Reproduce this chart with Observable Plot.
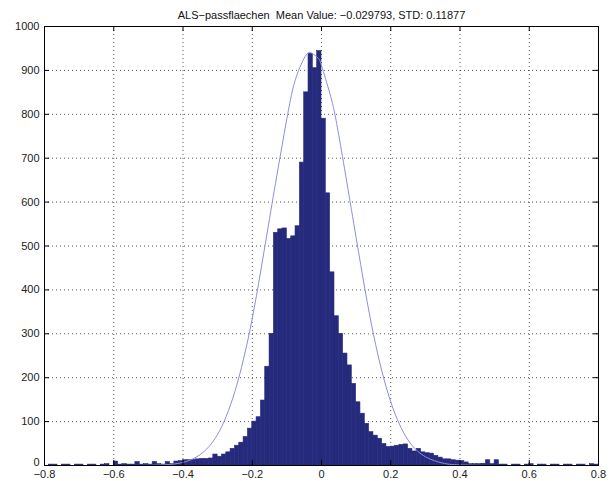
<!DOCTYPE html>
<html>
<head>
<meta charset="utf-8">
<script src="https://cdn.jsdelivr.net/npm/d3@7"></script>
<script src="https://cdn.jsdelivr.net/npm/@observablehq/plot@0.6"></script>
<style>
  body { margin: 0; background: #fff; }
  #chart svg { display: block; }
</style>
</head>
<body>
<div id="chart"></div>
<script>
// ---- data ----
const titleText = "ALS\u2212passflaechen  Mean Value: \u22120.029793, STD: 0.11877";
const binStart = -0.8;
const binWidth = 0.0125;
const counts = [
  0,2,2,0,2,2,0,2,2,0,2,2,0,2,3,0,
  9,2,3,2,2,8,2,3,2,8,3,2,8,3,9,10,
  12,12,13,14,15,15,16,25,20,25,30,38,45,52,65,84,
  100,110,148,225,300,530,538,540,516,522,545,690,850,938,905,944,
  790,620,440,340,300,255,228,186,144,118,95,76,68,61,49,42,
  43,45,47,48,38,32,38,30,28,27,22,18,14,14,12,11,
  10,7,3,3,3,4,12,3,12,2,2,0,2,2,0,2,
  3,0,2,2,0,2,2,0,2,2,0,2,2,0,3,2
];
// normal-fit curve
const curveX = [-0.8,-0.6,-0.5,-0.45,-0.4,-0.35,-0.3,-0.25,-0.2,-0.15,-0.1,-0.075,-0.05,-0.03,-0.01,0,0.025,0.05,0.1,0.15,0.2,0.25,0.3,0.35,0.4,0.5,0.6,0.8];
const curveY = [0,0,0.4,1.8,7,25,71,169,335,563,790,880,928,940,928,911,845,752,519,299,145,58,20,5.5,1.3,0,0,0];
const xTicks = [-0.8,-0.6,-0.4,-0.2,0,0.2,0.4,0.6,0.8];
const yTicks = [0,100,200,300,400,500,600,700,800,900,1000];

// ---- build tables ----
const bins = counts.map((c, i) => ({
  x1: binStart + i * binWidth,
  x2: binStart + (i + 1) * binWidth,
  y: c
}));
const curve = curveX.map((x, i) => ({x, y: curveY[i]}));

const fmt = d => (d < 0 ? "\u2212" : "") + String(Math.abs(d));
const xTickLen = 0.0145;  // ~5px inward tick
const yTickLen = 11.5;
const barColor = "#262a7c";

const chart = Plot.plot({
  width: 614,
  height: 481,
  marginLeft: 44,
  marginRight: 16,
  marginTop: 26,
  marginBottom: 16,
  style: {fontFamily: "'Liberation Sans', Arial, sans-serif", fontSize: "11px", color: "#222", background: "#fff"},
  x: {domain: [-0.8, 0.8]},
  y: {domain: [0, 1000]},
  marks: [
    Plot.gridX(xTicks, {stroke: "#000", strokeOpacity: 0.65, strokeDasharray: "1,3"}),
    Plot.gridY(yTicks, {stroke: "#000", strokeOpacity: 0.65, strokeDasharray: "1,3"}),
    Plot.rectY(bins, {x1: "x1", x2: "x2", y: "y", fill: barColor, stroke: barColor, strokeWidth: 0.6, inset: 0}),
    Plot.line(curve, {x: "x", y: "y", stroke: "#8c8ce6", strokeWidth: 1, curve: "natural"}),
    // inward ticks, MATLAB style
    Plot.ruleX(xTicks, {y1: 0, y2: yTickLen, stroke: "#000"}),
    Plot.ruleX(xTicks, {y1: 1000 - yTickLen, y2: 1000, stroke: "#000"}),
    Plot.ruleY(yTicks, {x1: -0.8, x2: -0.8 + xTickLen, stroke: "#000"}),
    Plot.ruleY(yTicks, {x1: 0.8 - xTickLen, x2: 0.8, stroke: "#000"}),
    Plot.frame({stroke: "#000"}),
    Plot.axisX({ticks: xTicks, tickSize: 0, tickPadding: 5, tickFormat: fmt, label: null}),
    Plot.axisY({ticks: yTicks.slice(1), tickSize: 0, tickPadding: 5, tickFormat: d => String(d), label: null}),
    Plot.axisY({ticks: yTicks.slice(0, 1), tickSize: 0, tickPadding: 5, dy: -3, tickFormat: d => String(d), label: null}),
    Plot.text([titleText], {text: d => d, frameAnchor: "top", dy: -8, lineAnchor: "bottom", fontSize: 11, fill: "#111"})
  ]
});
document.getElementById("chart").appendChild(chart);
</script>
</body>
</html>
